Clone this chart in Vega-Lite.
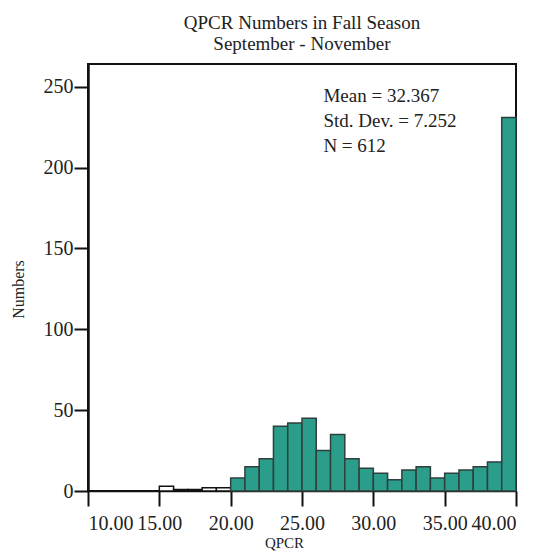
{
  "$schema": "https://vega.github.io/schema/vega-lite/v6.json",
  "width": 428,
  "height": 427,
  "autosize": {"type": "none"},
  "padding": {"left": 88, "top": 64, "right": 32, "bottom": 65},
  "background": "white",
  "title": {
    "text": ["QPCR Numbers in Fall Season", "September - November"],
    "font": "Liberation Serif",
    "fontSize": 19,
    "fontWeight": "normal",
    "color": "#222",
    "anchor": "middle",
    "lineHeight": 21,
    "offset": 10
  },
  "config": {
    "view": {"stroke": "#111", "strokeWidth": 2},
    "axis": {
      "labelFont": "Liberation Serif",
      "labelFontSize": 20,
      "labelColor": "#222",
      "titleFont": "Liberation Serif",
      "titleFontWeight": "normal",
      "titleColor": "#222",
      "domainColor": "#111",
      "tickColor": "#111",
      "grid": false
    }
  },
  "layer": [
    {
      "data": {
        "values": [
          {"start": 15, "end": 16, "count": 3},
          {"start": 16, "end": 17, "count": 1},
          {"start": 17, "end": 18, "count": 1},
          {"start": 18, "end": 19, "count": 2},
          {"start": 19, "end": 20, "count": 2},
          {"start": 20, "end": 21, "count": 8},
          {"start": 21, "end": 22, "count": 15},
          {"start": 22, "end": 23, "count": 20},
          {"start": 23, "end": 24, "count": 40},
          {"start": 24, "end": 25, "count": 42},
          {"start": 25, "end": 26, "count": 45},
          {"start": 26, "end": 27, "count": 25},
          {"start": 27, "end": 28, "count": 35},
          {"start": 28, "end": 29, "count": 20},
          {"start": 29, "end": 30, "count": 14},
          {"start": 30, "end": 31, "count": 11},
          {"start": 31, "end": 32, "count": 7},
          {"start": 32, "end": 33, "count": 13},
          {"start": 33, "end": 34, "count": 15},
          {"start": 34, "end": 35, "count": 8},
          {"start": 35, "end": 36, "count": 11},
          {"start": 36, "end": 37, "count": 13},
          {"start": 37, "end": 38, "count": 15},
          {"start": 38, "end": 39, "count": 18},
          {"start": 39, "end": 40, "count": 231}
        ]
      },
      "mark": {"type": "bar", "strokeWidth": 1.5},
      "encoding": {
        "x": {
          "field": "start",
          "type": "quantitative",
          "scale": {"domain": [10, 40], "nice": false, "zero": false},
          "axis": {
            "values": [10, 15, 20, 25, 30, 35, 40],
            "format": ".2f",
            "tickSize": 15,
            "tickWidth": 2,
            "domainWidth": 1.5,
            "labelPadding": 7,
            "title": "QPCR",
            "titleFontSize": 15,
            "titleX": 196,
            "titleY": 44
          }
        },
        "x2": {"field": "end"},
        "y": {
          "field": "count",
          "type": "quantitative",
          "scale": {"domain": [0, 264], "nice": false},
          "axis": {
            "values": [0, 50, 100, 150, 200, 250],
            "tickSize": 14,
            "tickWidth": 2,
            "domainWidth": 2.5,
            "labelPadding": 1,
            "title": "Numbers",
            "titleFontSize": 16,
            "titleX": -70,
            "titleY": 225,
            "titleAlign": "center",
            "titleBaseline": "middle"
          }
        },
        "y2": {"datum": 0},
        "fill": {
          "condition": {"test": "datum.start < 20", "value": "white"},
          "value": "#2a9d8b"
        },
        "stroke": {
          "condition": {"test": "datum.start < 20", "value": "#111"},
          "value": "#2f3f3c"
        }
      }
    },
    {
      "data": {"values": [{"label": "summary"}]},
      "mark": {
        "type": "text",
        "font": "Liberation Serif",
        "fontSize": 19,
        "fill": "#222",
        "align": "left",
        "baseline": "top",
        "lineHeight": 25
      },
      "encoding": {
        "x": {"datum": 26.5, "type": "quantitative"},
        "y": {"datum": 250, "type": "quantitative"},
        "text": {"value": ["Mean = 32.367", "Std. Dev. = 7.252", "N = 612"]}
      }
    }
  ]
}
